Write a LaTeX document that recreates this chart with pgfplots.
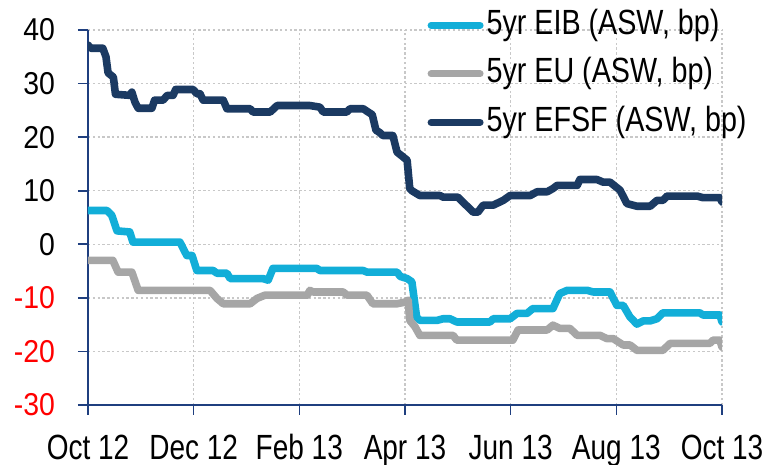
\documentclass[border=0pt]{standalone}
\usepackage{pgfplots}
\pgfplotsset{compat=1.18}
\usepackage{fontspec}
\setmainfont{Liberation Sans}
\newfontfamily\xfont[FakeStretch=0.8]{Liberation Sans}
\newfontfamily\yfont[FakeStretch=0.9]{Liberation Sans}
\newfontfamily\lgfont[FakeStretch=0.82]{Liberation Sans}
\definecolor{eib}{HTML}{12AED8}
\definecolor{eu}{HTML}{A6A6A6}
\definecolor{efsf}{HTML}{1B3A62}
\definecolor{axblue}{HTML}{1F3F7F}
\definecolor{gridc}{HTML}{C8C8C8}
\begin{document}
\begin{tikzpicture}
\begin{axis}[name=ax, scale only axis, width=317pt, height=187.5pt,
  xmin=0, xmax=12, ymin=-30, ymax=40,
  axis x line*=bottom, axis y line*=left,
  axis line style={axblue, line width=1pt},
  xtick={0,2,4,6,8,10,12},
  xticklabels={Oct 12,Dec 12,Feb 13,Apr 13,Jun 13,Aug 13,Oct 13},
  ytick={-30,-20,-10,0,10,20,30,40},
  yticklabels={\textcolor{red}{-30},\textcolor{red}{-20},\textcolor{red}{-10},0\hspace{3.5pt},10\hspace{3.5pt},20\hspace{3.5pt},30\hspace{3.5pt},40\hspace{3.5pt}},
  tick align=outside, major tick length=5pt,
  tick style={axblue, line width=0.8pt},
  xticklabel style={font=\xfont\fontsize{17.5}{19}\selectfont, anchor=base, yshift=-22.5pt},
  yticklabel style={font=\yfont\fontsize{15.8}{17}\selectfont, xshift=-8pt},
  grid=major,
  major grid style={gridc, dash pattern=on 1.2pt off 1.2pt, line width=0.7pt},
  legend cell align=left,
  legend style={at={(axis description cs:0.535,1.056)}, anchor=north west,
    draw=none, fill=none, inner sep=0pt, row sep=8.25pt, column sep=1.5pt,
    font=\lgfont\fontsize{17.5}{18}\selectfont,
    nodes={inner sep=0pt, text height=12.5pt, text depth=3.5pt}},
  legend image code/.code={\draw[line width=3.5pt, line cap=round] (1.75pt,0pt) -- (26.25pt,0pt);},
  every axis plot/.append style={line width=3.8pt, line join=round, line cap=round},
]
\addplot[eib] coordinates {
(0,6.3)(0.36,6.3)(0.45,5.4)(0.55,2.5)(0.79,2.3)(0.85,0.4)(1.74,0.4)(1.87,-2.1)(1.97,-2.1)(2.06,-4.9)(2.37,-4.9)(2.44,-5.4)(2.63,-5.4)(2.69,-6.4)(3.31,-6.4)(3.41,-6.7)(3.50,-4.5)(4.33,-4.5)(4.39,-4.9)(5.21,-4.9)(5.28,-5.2)(5.85,-5.2)(5.91,-6.0)(6.04,-6.4)(6.13,-7.0)(6.22,-13.6)(6.28,-14.2)(6.61,-14.2)(6.72,-13.9)(6.85,-13.9)(6.98,-14.5)(7.61,-14.5)(7.67,-13.9)(7.99,-13.9)(8.12,-12.9)(8.31,-12.9)(8.42,-12.0)(8.80,-12.0)(8.93,-9.2)(9.07,-8.6)(9.45,-8.6)(9.56,-8.9)(9.88,-8.9)(10.01,-11.4)(10.13,-11.4)(10.26,-13.6)(10.39,-14.9)(10.51,-14.3)(10.64,-14.3)(10.77,-13.9)(10.88,-12.8)(11.58,-12.8)(11.64,-13.2)(11.96,-13.2)(12,-14.5)
};
\addlegendentry{5yr EIB (ASW, bp)}
\addplot[eu] coordinates {
(0,-3.0)(0.47,-3.0)(0.57,-5.2)(0.83,-5.2)(0.95,-8.6)(2.31,-8.6)(2.44,-10.1)(2.56,-11.1)(3.07,-11.1)(3.20,-10.1)(3.35,-9.5)(4.15,-9.5)(4.20,-8.6)(4.26,-8.9)(4.83,-8.9)(4.90,-9.5)(5.28,-9.5)(5.39,-11.1)(5.85,-11.1)(6.00,-10.8)(6.06,-10.4)(6.09,-14.2)(6.19,-15.4)(6.28,-17.0)(6.91,-17.0)(6.98,-17.9)(8.04,-17.9)(8.14,-16.0)(8.69,-16.0)(8.80,-15.1)(8.93,-15.7)(9.12,-15.7)(9.26,-17.0)(9.69,-17.0)(9.82,-17.6)(9.94,-17.6)(10.13,-18.8)(10.26,-18.8)(10.39,-19.8)(10.88,-19.8)(11.02,-18.5)(11.77,-18.5)(11.83,-17.9)(11.96,-17.9)(12,-19.2)
};
\addlegendentry{5yr EU (ASW, bp)}
\addplot[efsf] coordinates {
(0,37.2)(0.05,36.6)(0.28,36.6)(0.34,35)(0.38,32)(0.48,31.2)(0.52,28)(0.79,27.8)(0.83,28.4)(0.89,26.5)(0.95,25.4)(1.21,25.4)(1.26,26.9)(1.42,26.9)(1.50,27.8)(1.61,27.8)(1.66,28.9)(1.99,28.9)(2.06,28.1)(2.12,28.1)(2.18,26.9)(2.56,26.9)(2.63,25.3)(3.07,25.3)(3.12,24.7)(3.45,24.7)(3.58,25.9)(4.20,25.9)(4.39,25.6)(4.45,24.7)(4.90,24.7)(4.96,25.3)(5.21,25.3)(5.30,24.7)(5.38,24.2)(5.45,21.3)(5.53,20.8)(5.58,20.3)(5.77,20.3)(5.85,17.2)(6.04,15.7)(6.09,10.4)(6.13,10.0)(6.28,9.1)(6.66,9.1)(6.72,8.8)(7.00,8.8)(7.29,6.0)(7.38,6.0)(7.48,7.3)(7.67,7.3)(7.86,8.2)(7.99,9.1)(8.37,9.1)(8.50,9.8)(8.69,9.8)(8.80,10.4)(8.88,11.0)(9.26,11.0)(9.31,12.1)(9.63,12.1)(9.75,11.6)(9.88,11.6)(10.07,10.1)(10.20,7.6)(10.39,7.1)(10.64,7.1)(10.77,8.2)(10.88,8.2)(10.96,9.0)(11.53,9.0)(11.64,8.7)(11.96,8.7)(12,7.9)
};
\addlegendentry{5yr EFSF (ASW, bp)}
\end{axis}
\pgfresetboundingbox
\path[use as bounding box] ([xshift=-44pt,yshift=-30pt]ax.south west) rectangle ([xshift=22.5pt,yshift=15pt]ax.north east);
\end{tikzpicture}
\end{document}
